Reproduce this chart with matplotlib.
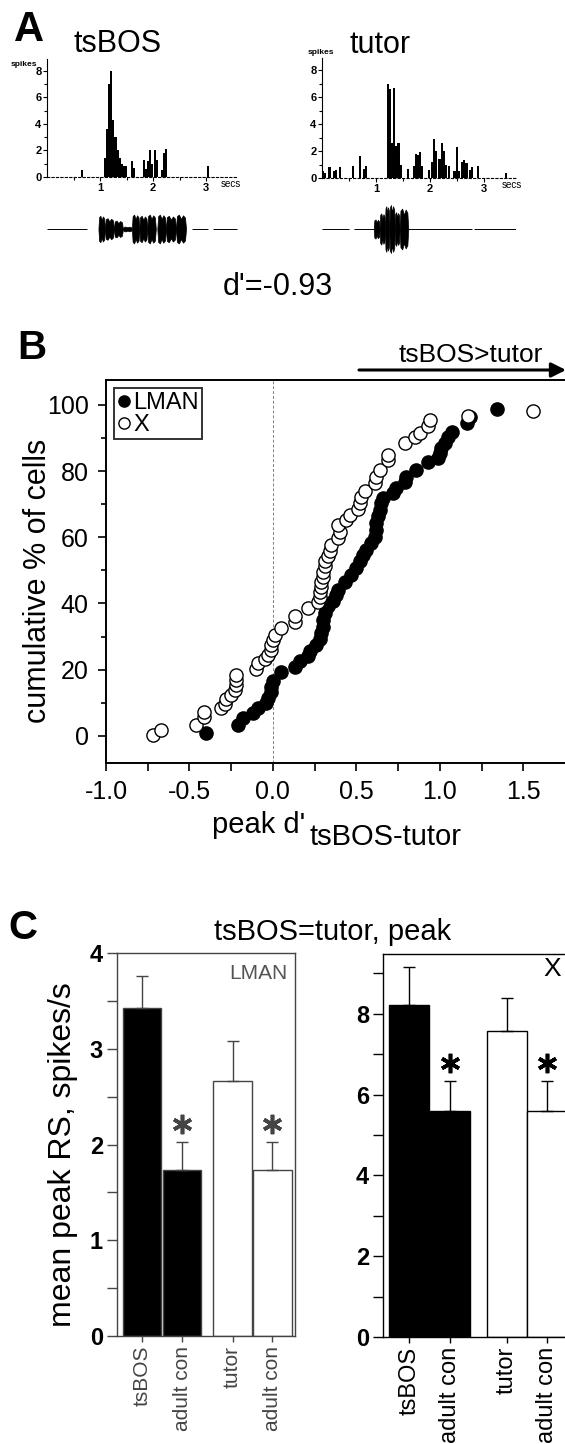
import matplotlib
matplotlib.use("Agg")
import matplotlib.pyplot as plt
from matplotlib import transforms

plt.rcParams["font.family"] = ["Liberation Sans", "DejaVu Sans"]

W, H = 565, 1444

# ---- panel A: spike histograms (bin start, s / spikes per bin) ----
tsbos_t = [0.64, 1.07, 1.11, 1.15, 1.19, 1.23, 1.27, 1.31, 1.35, 1.39, 1.43, 1.47,
           1.58, 1.62, 1.80, 1.84, 1.88, 1.92, 1.96, 2.02, 2.06, 2.14, 2.18, 2.22, 3.01]
tsbos_n = [0.5, 1.4, 3.6, 7.0, 8.0, 4.3, 3.0, 2.0, 1.4, 1.0, 0.8, 0.8,
           1.2, 0.7, 1.3, 0.6, 1.2, 2.0, 1.0, 2.0, 1.3, 0.5, 1.8, 2.1, 0.8]

tutor_t = [0.00, 0.04, 0.12, 0.20, 0.24, 0.32, 0.56, 0.68, 0.76, 0.80,
           1.20, 1.24, 1.28, 1.32, 1.36, 1.40, 1.44, 1.58,
           1.68, 1.72, 1.76, 1.80, 1.84, 1.96, 2.02, 2.06, 2.10, 2.16, 2.20, 2.24, 2.28,
           2.34, 2.44, 2.48, 2.52, 2.58, 2.62, 2.66, 2.72, 2.76, 2.88, 3.40]
tutor_n = [0.5, 0.4, 0.8, 0.5, 0.6, 0.8, 0.9, 1.6, 0.7, 0.9,
           7.0, 6.6, 2.6, 6.7, 2.4, 2.6, 1.0, 0.7,
           0.9, 1.8, 1.7, 1.9, 0.9, 0.6, 1.2, 2.9, 2.0, 1.4, 2.6, 2.0, 1.0,
           0.9, 0.5, 2.3, 0.5, 1.2, 1.3, 1.1, 0.6, 0.8, 0.9, 0.4]
bin_w = 0.04

# song oscillograms: syllable start, end (s) and amplitude
tsbos_syl_s = [0.97, 1.09, 1.26, 1.43, 1.60, 1.74, 1.89, 2.08, 2.24, 2.43]
tsbos_syl_e = [1.09, 1.26, 1.43, 1.60, 1.74, 1.89, 2.05, 2.24, 2.43, 2.62]
tsbos_syl_a = [0.55, 0.45, 0.35, 0.10, 0.60, 0.55, 0.60, 0.60, 0.55, 0.60]
tsbos_base_s = [0.0, 2.74, 3.12]
tsbos_base_e = [0.76, 3.04, 3.59]

tutor_syl_s = [0.96, 1.07, 1.17, 1.25, 1.35, 1.44]
tutor_syl_e = [1.07, 1.17, 1.25, 1.35, 1.44, 1.60]
tutor_syl_a = [0.40, 0.65, 0.95, 1.00, 0.70, 0.85]
tutor_base_s = [0.0, 0.59, 1.60, 2.82]
tutor_base_e = [0.50, 0.96, 2.78, 3.60]

# ---- panel B: cumulative distributions of peak d' ----
x_d = [-0.72, -0.67, -0.46, -0.41, -0.41, -0.31, -0.29, -0.28, -0.25, -0.23, -0.22, -0.22,
       -0.22, -0.10, -0.09, -0.05, -0.03, -0.01, -0.01, 0.00, 0.01, 0.05, 0.13, 0.13,
       0.21, 0.27, 0.28, 0.28, 0.29, 0.29, 0.30, 0.30, 0.31, 0.31, 0.33, 0.34, 0.35,
       0.39, 0.40, 0.39, 0.44, 0.46, 0.51, 0.52, 0.53, 0.55, 0.61, 0.62, 0.64, 0.69,
       0.69, 0.79, 0.85, 0.88, 0.93, 0.94, 1.17, 1.56]
x_pct = [0.3, 1.8, 3.3, 5.6, 7.3, 8.4, 9.7, 11.1, 12.4, 13.9, 15.3, 16.9,
         18.5, 20.1, 22.0, 23.2, 24.5, 26.0, 27.5, 29.0, 30.5, 32.5, 34.5, 36.2,
         38.5, 40.3, 41.9, 43.6, 45.1, 46.6, 48.1, 49.6, 51.2, 52.7, 54.2, 55.9, 57.7,
         59.7, 61.7, 63.7, 65.3, 66.8, 68.5, 70.3, 72.3, 74.1, 76.3, 78.3, 80.4, 83.4,
         84.9, 88.4, 90.2, 91.6, 93.7, 95.3, 96.5, 98.0]

lman_d = [-0.40, -0.21, -0.18, -0.12, -0.09, -0.04, -0.03, -0.01, -0.01, 0.00, 0.05, 0.13,
          0.16, 0.21, 0.22, 0.26, 0.28, 0.29, 0.30, 0.30, 0.31, 0.33, 0.36, 0.38,
          0.39, 0.43, 0.47, 0.50, 0.52, 0.54, 0.56, 0.59, 0.61, 0.62, 0.62, 0.63, 0.64,
          0.65, 0.66, 0.72, 0.74, 0.79, 0.80, 0.86, 0.93, 0.99, 1.00, 1.01, 1.03, 1.05,
          1.07, 1.16, 1.18, 1.34]
lman_pct = [0.8, 3.3, 5.3, 7.0, 8.4, 9.9, 11.4, 13.1, 14.9, 16.7, 19.4, 20.9,
            22.5, 24.2, 25.7, 27.5, 29.2, 31.0, 33.0, 35.0, 37.0, 39.1, 40.6, 42.6,
            44.1, 46.6, 48.6, 50.7, 52.7, 54.7, 56.2, 58.2, 60.2, 62.2, 64.2, 66.3, 68.3,
            70.3, 71.8, 73.3, 74.8, 76.8, 78.3, 80.2, 82.6, 83.9, 85.4, 86.9, 88.4, 90.4,
            91.9, 94.5, 96.3, 98.7]

# ---- panel C: mean peak response strength ----
c_labels = ["tsBOS", "adult con", "tutor", "adult con"]
c_colors = ["black", "black", "white", "white"]
c_sig = [False, True, False, True]
lman_mean = [3.43, 1.73, 2.66, 1.73]
lman_sem = [0.33, 0.30, 0.42, 0.30]
xarea_mean = [8.22, 5.60, 7.57, 5.60]
xarea_sem = [0.95, 0.73, 0.82, 0.73]

fig = plt.figure(figsize=(W / 100, H / 100), dpi=100)


def add_ax(l, t, r, b):
    return fig.add_axes([l / W, 1 - b / H, (r - l) / W, (b - t) / H])


def ftext(x, y, s, **kw):
    fig.text(x / W, 1 - y / H, s, **kw)


# ================= A =================
ftext(14, 30, "A", fontsize=30, fontweight="bold", va="center")

hists = [
    ((47, 59, 238, 177), tsbos_t, tsbos_n, "tsBOS", (73, 44), (24, 64), (3.28, -1.05)),
    ((322, 58, 516, 178), tutor_t, tutor_n, "tutor", (350, 45), (321, 52), (3.33, -1.05)),
]
for rect, t, n, title, tpos, spos, secpos in hists:
    ax = add_ax(*rect)
    ax.bar(t, n, width=bin_w, align="edge", color="black", linewidth=0)
    ax.set_xlim(0, 3.6)
    ax.set_ylim(0, 8.9)
    ax.spines["top"].set_visible(False)
    ax.spines["right"].set_visible(False)
    ax.spines["bottom"].set_linestyle((0, (2, 2)))
    ax.spines["bottom"].set_linewidth(0.8)
    ax.spines["left"].set_linewidth(0.8)
    ax.set_yticks([0, 2, 4, 6, 8])
    ax.set_yticks([1, 3, 5, 7], minor=True)
    ax.set_xticks([1, 2, 3])
    ax.set_xticks([0.5, 1.5, 2.5], minor=True)
    ax.tick_params(labelsize=8, length=3, width=0.8, pad=1)
    ax.tick_params(which="minor", length=2, width=0.8)
    for lab in ax.get_xticklabels() + ax.get_yticklabels():
        lab.set_fontweight("bold")
    ax.text(secpos[0], -0.55, "secs", fontsize=7, va="center", clip_on=False)
    ftext(tpos[0], tpos[1], title, fontsize=22, va="center")
    ftext(spos[0], spos[1], "spikes", fontsize=6, va="center", ha="center", fontweight="bold")

waves = [
    ((47, 205, 238, 253), tsbos_syl_s, tsbos_syl_e, tsbos_syl_a, tsbos_base_s, tsbos_base_e),
    ((322, 205, 516, 253), tutor_syl_s, tutor_syl_e, tutor_syl_a, tutor_base_s, tutor_base_e),
]
for rect, ss, ee, aa, bs, be in waves:
    ax = add_ax(*rect)
    ax.hlines([0] * len(bs), bs, be, color="black", lw=0.7)
    for s, e, a in zip(ss, ee, aa):
        w = e - s
        xs = [s, s + 0.1 * w, s + 0.3 * w, s + 0.5 * w, s + 0.7 * w, s + 0.9 * w, e]
        env = [0.05 * a, 0.9 * a, a, 0.7 * a, 0.95 * a, 0.8 * a, 0.05 * a]
        ax.fill_between(xs, [-v for v in env], env, color="black", lw=0.5)
    ax.set_xlim(0, 3.6)
    ax.set_ylim(-1, 1)
    ax.axis("off")

ftext(278, 295, "d'=-0.93", fontsize=22, ha="center", va="baseline")

# ================= B =================
ftext(17, 348, "B", fontsize=29, fontweight="bold", va="center")
axb = add_ax(106, 380, 565, 763)
axb.axvline(0, color="gray", lw=0.7, ls=(0, (3, 2)), zorder=1)
axb.plot(x_d, x_pct, "o", ms=9.5, mfc="white", mec="black", mew=1.0, label="X", zorder=3)
axb.plot(lman_d, lman_pct, "o", ms=9.5, mfc="black", mec="black", mew=1.0, label="LMAN", zorder=2)
axb.set_xlim(-1.0, 1.75)
axb.set_ylim(-8.2, 107.5)
axb.spines["right"].set_visible(False)
for side in ["top", "left", "bottom"]:
    axb.spines[side].set_linewidth(1.4)
axb.set_xticks([-1.0, -0.5, 0.0, 0.5, 1.0, 1.5])
axb.set_xticklabels(["-1.0", "-0.5", "0.0", "0.5", "1.0", "1.5"])
axb.set_xticks([-0.75, -0.25, 0.25, 0.75, 1.25], minor=True)
axb.set_yticks([0, 20, 40, 60, 80, 100])
axb.set_yticks([10, 30, 50, 70, 90], minor=True)
axb.tick_params(labelsize=18, length=5.5, width=1.2, pad=7)
axb.tick_params(axis="x", which="minor", length=5.5, width=1.2)
axb.tick_params(axis="y", which="minor", length=3.5, width=1.2)
handles, labels = axb.get_legend_handles_labels()
leg = axb.legend(handles[::-1], labels[::-1], loc="upper left", fontsize=17, frameon=True,
                 fancybox=False, edgecolor="black", borderpad=0.15, labelspacing=0.0,
                 handlelength=0.5, handletextpad=0.15, borderaxespad=0.35, markerscale=0.85)
leg.get_frame().set_linewidth(1.4)
ftext(38, 581, "cumulative % of cells", fontsize=22, rotation=90, ha="center", va="center")
ftext(212, 833, "peak d'", fontsize=21, ha="left", va="baseline")
ftext(309, 845, "tsBOS-tutor", fontsize=21, ha="left", va="baseline")
ftext(471, 355, "tsBOS>tutor", fontsize=19, ha="center", va="center")
axb.annotate("", xy=(566 / W, 1 - 370 / H), xytext=(359 / W, 1 - 370 / H),
             xycoords="figure fraction", textcoords="figure fraction", annotation_clip=False,
             arrowprops=dict(arrowstyle="-|>", lw=2.2, color="black", mutation_scale=22,
                             shrinkA=0, shrinkB=0))

# ================= C =================
ftext(8, 928, "C", fontsize=29, fontweight="bold", va="center")
ftext(333, 932, "tsBOS=tutor, peak", fontsize=21, ha="center", va="center")
ftext(63, 1155, "mean peak RS, spikes/s", fontsize=23, rotation=90, ha="center", va="center")

panels = [
    ((117, 953, 295, 1336), [0, 1, 2.26, 3.25], 0.97, lman_mean, lman_sem, (-0.625, 3.82),
     (0, 4), [0, 1, 2, 3, 4], [0.5, 1.5, 2.5, 3.5], "#444444", 15, "LMAN", True),
    ((383, 954, 565, 1337), [0, 1, 2.41, 3.40], 0.98, xarea_mean, xarea_sem, (-0.65, 3.84),
     (0, 9.48), [0, 2, 4, 6, 8], [1, 3, 5, 7, 9], "black", 17, "X", False),
]
for rect, pos, bw, mean, sem, xl, yl, yt, ytm, col, lsize, name, right in panels:
    ax = add_ax(*rect)
    ax.bar(pos, mean, width=bw, color=c_colors, edgecolor=col, linewidth=1.0, zorder=2)
    ax.errorbar(pos, mean, yerr=[[0] * len(sem), sem], fmt="none", ecolor=col,
                elinewidth=1.0, capsize=4, capthick=1.0, zorder=3)
    off = transforms.ScaledTranslation(0, 13 / 72, fig.dpi_scale_trans)
    for p, m, s, sg in zip(pos, mean, sem, c_sig):
        if sg:
            ax.plot([p], [m + s], marker=(6, 2, 0), ms=14, mew=2.6, color=col,
                    transform=ax.transData + off, clip_on=False, zorder=4)
    ax.set_xlim(*xl)
    ax.set_ylim(*yl)
    ax.set_xticks(pos)
    ax.set_xticklabels(c_labels, rotation=90, fontsize=lsize, color=col)
    ax.set_yticks(yt)
    ax.set_yticks(ytm, minor=True)
    ax.tick_params(axis="y", labelsize=17, length=7, width=1.0, pad=3, colors=col, labelcolor="black")
    ax.tick_params(axis="y", which="minor", length=7, width=1.0, colors=col)
    ax.tick_params(axis="x", length=4, width=1.0, pad=3, colors=col)
    for lab in ax.get_yticklabels():
        lab.set_fontweight("bold")
    for sp in ax.spines.values():
        sp.set_color(col)
        sp.set_linewidth(1.0)
    if not right:
        ax.spines["right"].set_visible(False)
    if name == "LMAN":
        ax.text(0.96, 0.97, name, transform=ax.transAxes, ha="right", va="top",
                fontsize=15, color="#555555")
    else:
        ftext(561, 969, name, fontsize=19, ha="right", va="center")

fig.savefig("out.png", dpi=100)
